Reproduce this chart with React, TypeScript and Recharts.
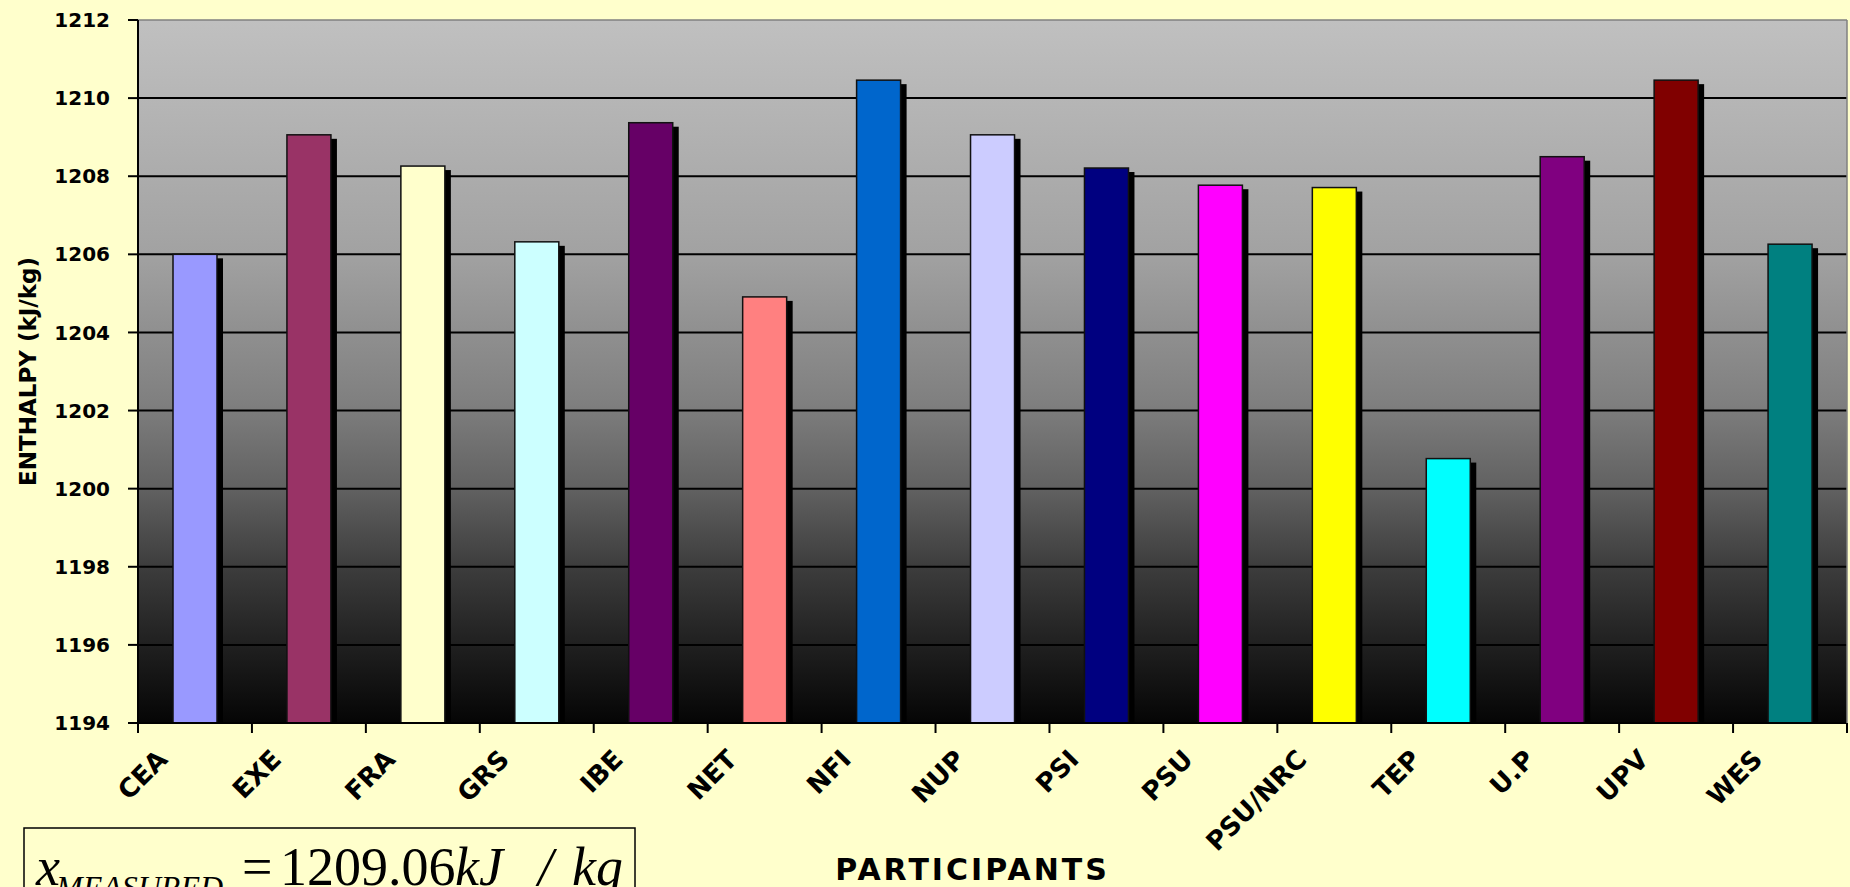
import React from "react";
import { BarChart, Bar, XAxis, YAxis, CartesianGrid, Cell, Label, ReferenceLine } from "recharts";

const participants = [
  "CEA", "EXE", "FRA", "GRS", "IBE", "NET", "NFI", "NUP",
  "PSI", "PSU", "PSU/NRC", "TEP", "U.P", "UPV", "WES",
];
const enthalpy = [
  1206.0, 1209.06, 1208.26, 1206.32, 1209.37, 1204.91, 1210.46, 1209.06,
  1208.21, 1207.77, 1207.71, 1200.77, 1208.5, 1210.46, 1206.26,
];
const barColors = [
  "#9999ff", "#993366", "#ffffcc", "#ccffff", "#660066", "#ff8080", "#0066cc", "#ccccff",
  "#000080", "#ff00ff", "#ffff00", "#00ffff", "#800080", "#800000", "#008080",
];
const yTicks = [1194, 1196, 1198, 1200, 1202, 1204, 1206, 1208, 1210, 1212];

const data = participants.map((name, i) => ({ name, value: enthalpy[i] }));

const W = 1850;
const H = 887;
const Y_AXIS_W = 138;
const RIGHT = 3;
const BAND = (W - Y_AXIS_W - RIGHT) / participants.length;
const TICK_FONT = '"DejaVu Sans", Verdana, sans-serif';

const ShadowBar = (props: any) => {
  const { x, y, width, height, fill } = props;
  if (height == null || height <= 0) return null;
  return (
    <g>
      <rect x={x + 6} y={y + 4} width={width} height={height - 4} fill="#000" />
      <rect x={x} y={y} width={width} height={height} fill={fill} stroke="#111" strokeWidth={1.5} />
    </g>
  );
};

// excel style: tick marks between categories, labels slanted 45deg
const XTick = (props: any) => {
  const { x, y, payload, index } = props;
  const tx = x - 26;
  const ty = y + 38;
  return (
    <g>
      <line x1={x - BAND / 2} x2={x - BAND / 2} y1={y} y2={y + 10} stroke="#000" strokeWidth={2} />
      {index === participants.length - 1 && (
        <line x1={x + BAND / 2} x2={x + BAND / 2} y1={y} y2={y + 10} stroke="#000" strokeWidth={2} />
      )}
      <text
        x={tx}
        y={ty}
        transform={`rotate(-45, ${tx}, ${ty})`}
        textAnchor="end"
        fontFamily={TICK_FONT}
        fontWeight="bold"
        fontSize={26}
        fill="#000"
      >
        {payload.value}
      </text>
    </g>
  );
};

const YTitle = (props: any) => {
  const vb = props.viewBox ?? { x: 0, y: 20, width: Y_AXIS_W, height: 703 };
  const cx = vb.x + 28;
  const cy = vb.y + vb.height / 2;
  return (
    <text
      x={cx}
      y={cy}
      transform={`rotate(-90, ${cx}, ${cy})`}
      textAnchor="middle"
      dominantBaseline="central"
      fontFamily={TICK_FONT}
      fontWeight="bold"
      fontSize={23}
      fill="#000"
    >
      ENTHALPY (kJ/kg)
    </text>
  );
};

const XTitle = (props: any) => {
  const vb = props.viewBox ?? { x: Y_AXIS_W, y: 723, width: W - Y_AXIS_W - RIGHT, height: 164 };
  return (
    <text
      x={vb.x + vb.width / 2 - 20}
      y={vb.y + 157}
      textAnchor="middle"
      fontFamily={TICK_FONT}
      fontWeight="bold"
      fontSize={30}
      letterSpacing={3}
      fill="#000"
    >
      PARTICIPANTS
    </text>
  );
};

export default function App() {
  return (
    <div
      style={{
        position: "fixed",
        left: 0,
        top: 0,
        width: W,
        height: H,
        overflow: "hidden",
        background: "#ffffcc",
      }}
    >
      <BarChart
        width={W}
        height={H}
        data={data}
        margin={{ top: 20, right: 0, bottom: 0, left: 0 }}
        barSize={44}
      >
        <defs>
          <linearGradient id="plotBg" x1="0" y1="0" x2="0" y2="1">
            <stop offset="0" stopColor="#c0c0c0" />
            <stop offset="0.33" stopColor="#a2a2a2" />
            <stop offset="0.54" stopColor="#808080" />
            <stop offset="0.67" stopColor="#606060" />
            <stop offset="0.78" stopColor="#3c3c3c" />
            <stop offset="0.88" stopColor="#222222" />
            <stop offset="1" stopColor="#050505" />
          </linearGradient>
        </defs>
        <CartesianGrid
          vertical={false}
          horizontalValues={yTicks.slice(1, -1)}
          stroke="#000"
          strokeWidth={2}
          fill="url(#plotBg)"
          fillOpacity={1}
        />
        <XAxis
          dataKey="name"
          height={164}
          interval={0}
          tickSize={0}
          tickMargin={0}
          tickLine={false}
          axisLine={{ stroke: "#000", strokeWidth: 2 }}
          tick={<XTick />}
        >
          <Label content={<XTitle />} />
        </XAxis>
        <YAxis
          width={Y_AXIS_W}
          domain={[1194, 1212]}
          ticks={yTicks}
          interval={0}
          tickSize={10}
          tickMargin={18}
          tickLine={{ stroke: "#000", strokeWidth: 2 }}
          axisLine={{ stroke: "#000", strokeWidth: 2 }}
          tick={{ fontFamily: TICK_FONT, fontWeight: "bold", fontSize: 20, fill: "#000" }}
        >
          <Label content={<YTitle />} />
        </YAxis>
        <YAxis
          yAxisId="frame"
          orientation="right"
          width={RIGHT}
          domain={[1194, 1212]}
          tick={false}
          tickLine={false}
          axisLine={{ stroke: "#808080", strokeWidth: 1.5 }}
        />
        <ReferenceLine y={1212} stroke="#808080" strokeWidth={1.5} />
        <Bar dataKey="value" shape={<ShadowBar />} isAnimationActive={false}>
          {data.map((d, i) => (
            <Cell key={d.name} fill={barColors[i]} />
          ))}
        </Bar>
      </BarChart>
      <svg
        width={W}
        height={H}
        style={{ position: "absolute", left: 0, top: 0, pointerEvents: "none" }}
      >
        <rect x={24} y={828} width={611} height={80} fill="none" stroke="#000" strokeWidth={1.5} />
        <text fontFamily='"Liberation Serif", "Times New Roman", serif' fill="#000">
          <tspan x={36} y={885} fontSize={54} fontStyle="italic">x</tspan>
          <tspan x={56} y={898} fontSize={32} fontStyle="italic">MEASURED</tspan>
          <tspan x={242} y={885} fontSize={54}>=</tspan>
          <tspan x={280} y={885} fontSize={54}>1209.06</tspan>
          <tspan x={455} y={885} fontSize={54} fontStyle="italic">kJ</tspan>
          <tspan x={538} y={885} fontSize={54} fontStyle="italic">/</tspan>
          <tspan x={572} y={885} fontSize={54} fontStyle="italic">kg</tspan>
        </text>
      </svg>
    </div>
  );
}
